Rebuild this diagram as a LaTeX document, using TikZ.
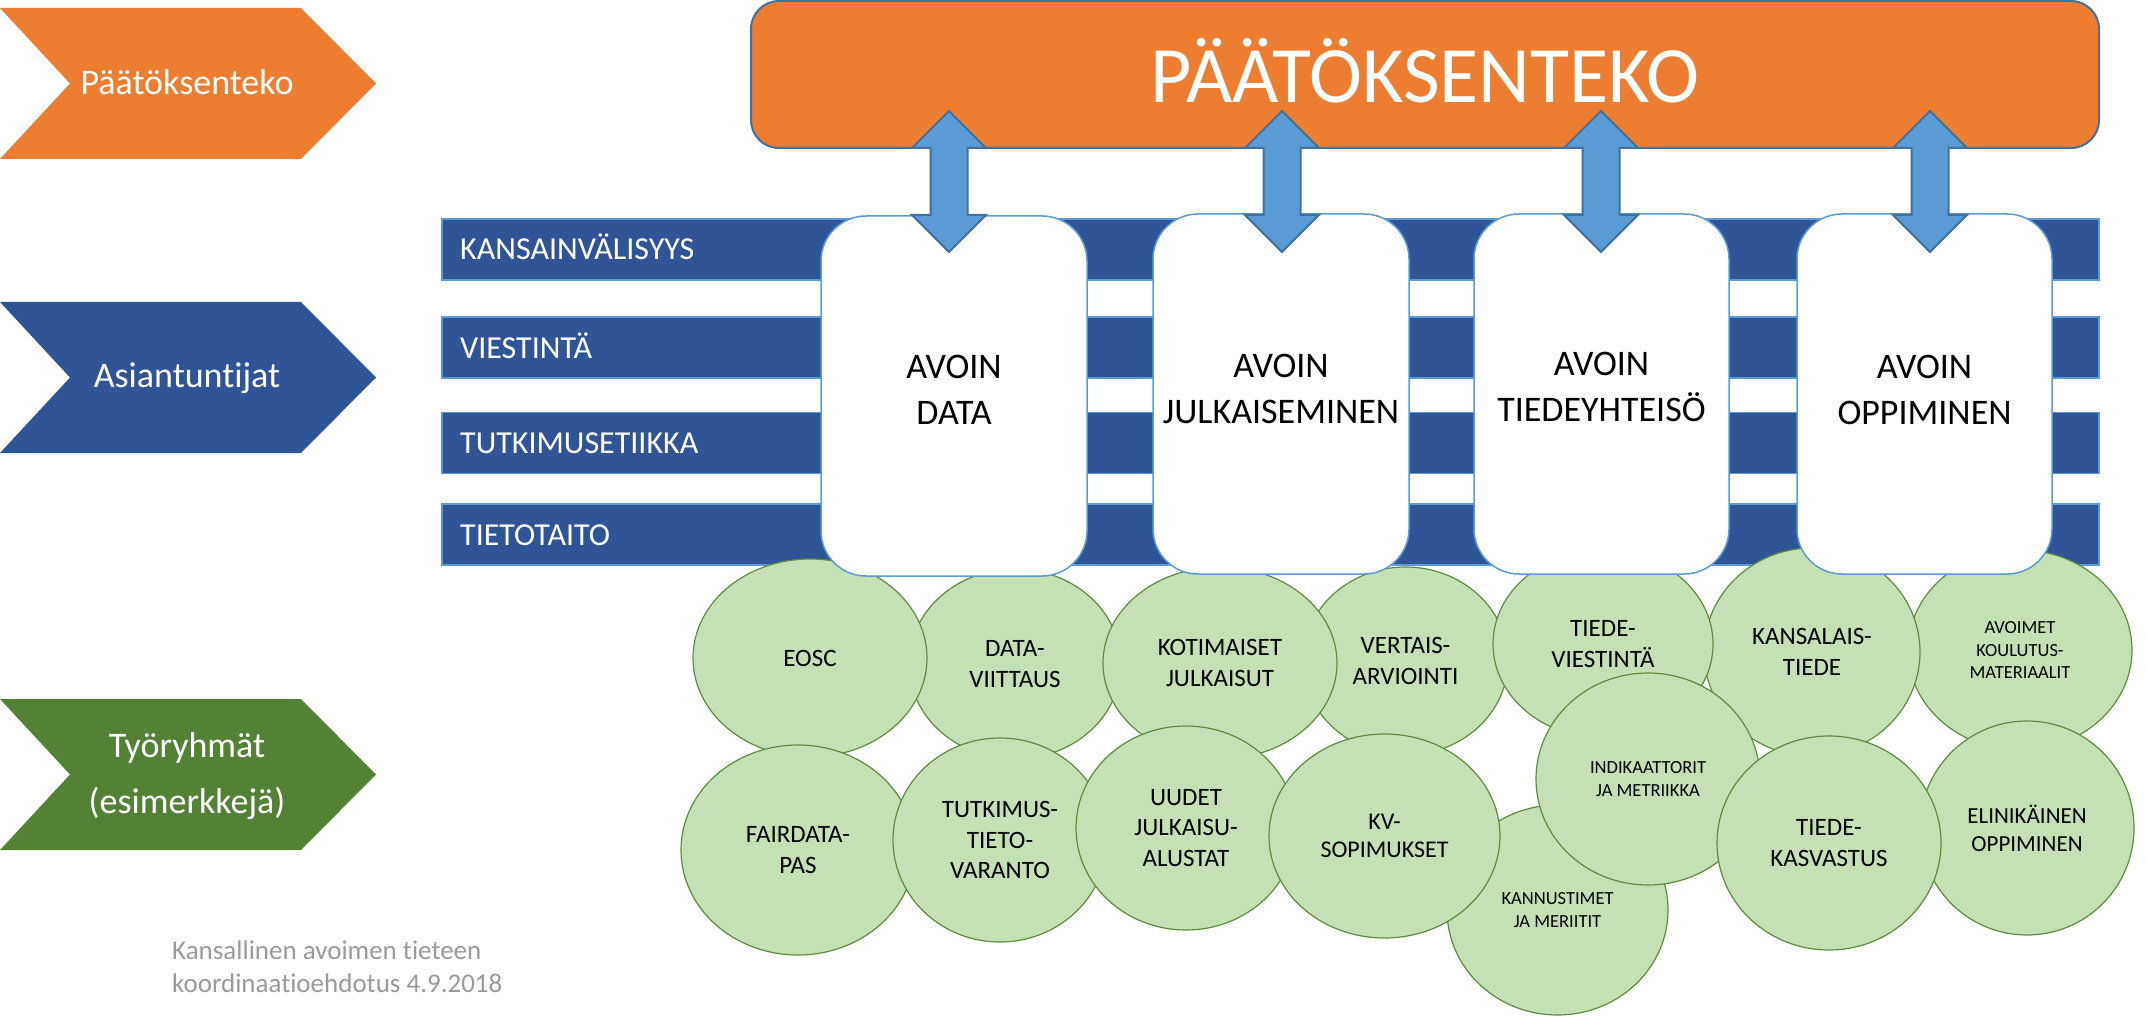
\documentclass[tikz,border=0pt]{standalone}
\usepackage{fontspec}
\setmainfont{Carlito}[Ligatures={NoCommon,NoContextual}]
\usetikzlibrary{shapes.geometric}
\definecolor{orng}{HTML}{ED7D31}
\definecolor{dblue}{HTML}{2F5597}
\definecolor{dgreen}{HTML}{548235}
\definecolor{lblue}{HTML}{5B9BD5}
\definecolor{mblue}{HTML}{41719C}
\definecolor{lgreen}{HTML}{C5E0B4}
\definecolor{egreen}{HTML}{5E8C3E}
\definecolor{footgray}{HTML}{9A9A9A}
\begin{document}
\begin{tikzpicture}[x=1pt,y=-1pt,
  chevtext/.style={text=white, font=\fontsize{36}{56}\selectfont, align=center, inner sep=0pt},
  barbox/.style={rectangle, fill=dblue, draw=lblue, line width=1.2pt, minimum width=1657pt, minimum height=61pt, inner sep=0pt},
  bartext/.style={text=white, font=\fontsize{32}{38}\selectfont, anchor=base west, inner sep=0pt},
  wg/.style={ellipse, fill=lgreen, draw=egreen, line width=1.2pt, inner sep=0pt, align=center, font=\fontsize{25}{30.5}\selectfont},
  wgs/.style={wg, font=\fontsize{18.5}{22.5}\selectfont},
  colbox/.style={rectangle, rounded corners=45pt, fill=white, draw=lblue, line width=1.5pt, minimum height=360pt, inner sep=0pt},
  coltext/.style={align=center, inner sep=0pt, font=\fontsize{36}{46}\selectfont},
  arrowsty/.style={fill=lblue, draw=mblue, line width=2pt, line join=miter},
  dblarrow/.pic={\draw[arrowsty] (0,111) -- (37,148) -- (18.5,148) -- (18.5,215) -- (37,215) -- (0,252) -- (-37,215) -- (-18.5,215) -- (-18.5,148) -- (-37,148) -- cycle;}
]
\useasboundingbox (0,0) rectangle (2147,1016);
\fill[white] (0,0) rectangle (2147,1016);

% chevrons
\fill[orng] (0,8) -- (301,8) -- (376,83.5) -- (301,159) -- (0,159) -- (70,83.5) -- cycle;
\fill[dblue] (0,302) -- (301,302) -- (376,377.5) -- (301,453) -- (0,453) -- (70,377.5) -- cycle;
\fill[dgreen] (0,699) -- (301,699) -- (376,774.5) -- (301,850) -- (0,850) -- (70,774.5) -- cycle;
\node[chevtext, anchor=base] (c1) at (187,95) {Päätöksenteko};
\node[chevtext, anchor=base] (c2) at (187,387) {Asiantuntijat};
\node[chevtext] (c3) at (187,776) {Työryhmät\\(esimerkkejä)};

% footer
\node[anchor=north west, align=left, inner sep=0pt, text=footgray, font=\fontsize{27}{33}\selectfont] (foot) at (172,941) {Kansallinen avoimen tieteen\\koordinaatioehdotus 4.9.2018};

% horizontal bars
\node[barbox] (r1) at (1270.5,249.5) {};
\node[barbox] (r2) at (1270.5,347.5) {};
\node[barbox] (r3) at (1270.5,443) {};
\node[barbox] (r4) at (1270.5,534.5) {};
\node[bartext] (t1) at (460,260) {KANSAINVÄLISYYS};
\node[bartext] (t2) at (460,358) {VIESTINTÄ};
\node[bartext] (t3) at (460,453.5) {TUTKIMUSETIIKKA};
\node[bartext] (t4) at (460,545) {TIETOTAITO};

% working group ellipses, first row
\node[wgs, minimum width=224pt, minimum height=200pt] (e7) at (2020,650) {AVOIMET\\KOULUTUS-\\MATERIAALIT};
\node[wg, minimum width=216pt, minimum height=208pt] (e6) at (1812,652) {KANSALAIS-\\TIEDE};
\node[wg, minimum width=205pt, minimum height=188pt] (e4) at (1405.5,661) {VERTAIS-\\ARVIOINTI};
\node[wg, minimum width=220pt, minimum height=188pt] (e5) at (1603,644) {TIEDE-\\VIESTINTÄ};
\node[wg, minimum width=212pt, minimum height=190pt] (e2) at (1015,664) {DATA-\\VIITTAUS};
\node[wg, minimum width=234pt, minimum height=192pt] (e3) at (1220,663) {KOTIMAISET\\JULKAISUT};
\node[wg, minimum width=234pt, minimum height=198pt] (e1) at (810,658) {EOSC};

% second row
\node[wgs, minimum width=221pt, minimum height=210pt] (e12) at (1557.5,910) {KANNUSTIMET\\JA MERIITIT};
\node[wg, minimum width=234pt, minimum height=210pt] (e8) at (798,850) {FAIRDATA-\\PAS};
\node[wg, minimum width=214pt, minimum height=204pt] (e9) at (1000,840) {TUTKIMUS-\\TIETO-\\VARANTO};
\node[wg, minimum width=220pt, minimum height=204pt] (e10) at (1186,828) {UUDET\\JULKAISU-\\ALUSTAT};
\node[wg, minimum width=231pt, minimum height=204pt, font=\fontsize{24}{28.5}\selectfont] (e11) at (1384.5,836) {KV-\\SOPIMUKSET};
\node[wgs, minimum width=224pt, minimum height=212pt] (e13) at (1648,779) {INDIKAATTORIT\\JA METRIIKKA};
\node[wg, minimum width=214pt, minimum height=214pt, font=\fontsize{23}{28}\selectfont] (e15) at (2027,828) {ELINIKÄINEN\\OPPIMINEN};
\node[wg, minimum width=224pt, minimum height=214pt] (e14) at (1829,843) {TIEDE-\\KASVASTUS};

% column boxes
\node[colbox, minimum width=266pt] (b1) at (954,396) {};
\node[colbox, minimum width=256pt] (b2) at (1281,394) {};
\node[colbox, minimum width=255pt] (b3) at (1601.5,394) {};
\node[colbox, minimum width=255pt] (b4) at (1924.5,394) {};
\node[coltext] (bt1) at (954,390) {AVOIN\\DATA};
\node[coltext] (bt2) at (1281,389) {AVOIN\\JULKAISEMINEN};
\node[coltext] (bt3) at (1601.5,387) {AVOIN\\TIEDEYHTEISÖ};
\node[coltext] (bt4) at (1924.5,390) {AVOIN\\OPPIMINEN};

% decision box
\node[rectangle, rounded corners=28pt, fill=orng, draw=mblue, line width=2pt, minimum width=1348pt, minimum height=147pt, inner sep=0pt] (pk) at (1425,74.5) {};
\node[anchor=base, inner sep=0pt, text=white, font=\fontsize{80}{96}\selectfont] (pkt) at (1425,103) {PÄÄTÖKSENTEKO};

% double arrows
\pic (a1) at (949,0) {dblarrow};
\pic (a2) at (1282,0) {dblarrow};
\pic (a3) at (1601,0) {dblarrow};
\pic (a4) at (1930,0) {dblarrow};
\end{tikzpicture}
\end{document}
